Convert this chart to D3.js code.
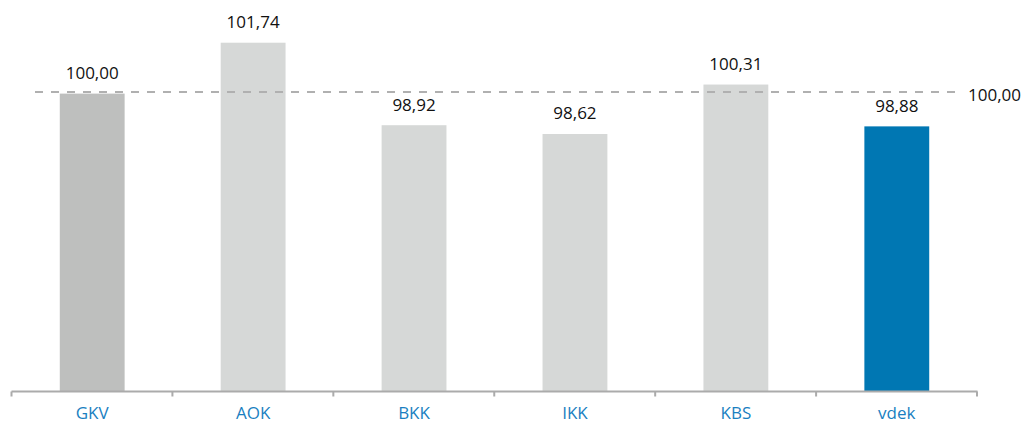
<!DOCTYPE html>
<html>
  <head>
    <meta charset="utf-8">
    <title>Bar Chart</title>
    <style>
      body { margin: 0; background: #fff; }
      text { font-family: 'Open Sans', sans-serif; }
    </style>
  </head>
  <body>
    <div id="chart"></div>
    <script src="https://cdn.jsdelivr.net/npm/d3@7/dist/d3.min.js"></script>
    <script>
      var categories = ['GKV', 'AOK', 'BKK', 'IKK', 'KBS', 'vdek'];
      var values = [100.00, 101.74, 98.92, 98.62, 100.31, 98.88];
      var valueLabels = ['100,00', '101,74', '98,92', '98,62', '100,31', '98,88'];
      var reference = 100;
      var referenceLabel = '100,00';

      (function(d3) {
        'use strict';
        var width = 1027;
        var height = 424;
        var baseline = 391.5;

        var svg = d3.select('#chart')
          .append('svg')
          .attr('width', width)
          .attr('height', height);

        var x = d3.scaleBand()
          .domain(categories)
          .range([11.5, 977.5])
          .paddingInner(0.597)
          .paddingOuter(0.3);

        var y = d3.scaleLinear()
          .domain([89.8, 103.2])
          .range([392, 0]);

        var color = function(d) {
          if (d === 'GKV') return '#bebfbe';
          if (d === 'vdek') return '#0077b3';
          return '#d6d8d7';
        };

        // bars
        svg.selectAll('rect.bar')
          .data(categories)
          .enter()
          .append('rect')
          .attr('class', 'bar')
          .attr('x', function(d) { return x(d); })
          .attr('width', x.bandwidth())
          .attr('y', function(d, i) { return y(values[i]); })
          .attr('height', function(d, i) { return y.range()[0] - y(values[i]); })
          .attr('fill', color);

        // reference line
        var refY = Math.round(y(reference)) - 2;
        svg.append('line')
          .attr('x1', 35)
          .attr('x2', 956)
          .attr('y1', refY)
          .attr('y2', refY)
          .attr('stroke', '#b0b0b0')
          .attr('stroke-width', 2)
          .attr('stroke-dasharray', '8,8');

        svg.append('text')
          .attr('x', 968)
          .attr('y', refY + 9)
          .attr('font-size', 17)
          .attr('fill', '#111')
          .text(referenceLabel);

        // value labels
        svg.selectAll('text.value')
          .data(categories)
          .enter()
          .append('text')
          .attr('class', 'value')
          .attr('x', function(d) { return x(d) + x.bandwidth() / 2; })
          .attr('y', function(d, i) { return y(values[i]) - 14.5; })
          .attr('text-anchor', 'middle')
          .attr('font-size', 17)
          .attr('fill', '#111')
          .text(function(d, i) { return valueLabels[i]; });

        // axis
        var axis = svg.append('g');
        axis.append('line')
          .attr('x1', x.range()[0])
          .attr('x2', x.range()[1])
          .attr('y1', baseline)
          .attr('y2', baseline)
          .attr('stroke', '#ababab')
          .attr('stroke-width', 2);

        var ticks = d3.range(categories.length + 1).map(function(i) {
          return x.range()[0] + i * x.step();
        });
        axis.selectAll('line.tick')
          .data(ticks)
          .enter()
          .append('line')
          .attr('class', 'tick')
          .attr('x1', function(d) { return d; })
          .attr('x2', function(d) { return d; })
          .attr('y1', baseline)
          .attr('y2', baseline + 5)
          .attr('stroke', '#ababab')
          .attr('stroke-width', 2);

        axis.selectAll('text.cat')
          .data(categories)
          .enter()
          .append('text')
          .attr('class', 'cat')
          .attr('x', function(d) { return x(d) + x.bandwidth() / 2; })
          .attr('y', 419)
          .attr('text-anchor', 'middle')
          .attr('font-size', 17)
          .attr('fill', '#1a7fc1')
          .text(function(d) { return d; });
      })(window.d3);
    </script>
  </body>
</html>
